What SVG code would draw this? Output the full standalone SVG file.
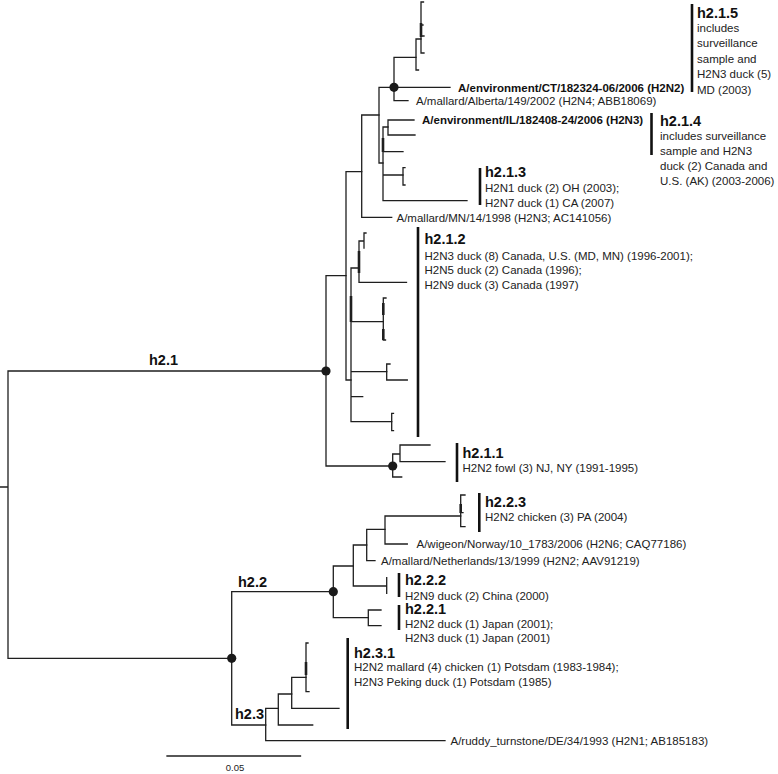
<svg xmlns="http://www.w3.org/2000/svg" width="778" height="774" viewBox="0 0 778 774">
<style>
.br{fill:none;stroke:#1f1f1f;stroke-width:1.3;stroke-linecap:square}
.tk{fill:none;stroke:#1f1f1f;stroke-width:2.6}
.bar{fill:none;stroke:#111;stroke-width:2.6}
.dot{fill:#1a1a1a}
text{font-family:"Liberation Sans",Arial,sans-serif;fill:#222}
.lb{font-size:11.5px}
.bd{font-size:11.5px;font-weight:bold;fill:#111}
.tt{font-size:14.5px;font-weight:bold;fill:#111}
.sc{font-size:9.5px}
</style>
<rect width="778" height="774" fill="#fff"/>
<g id="connectors">
<path class="br" d="M0,487H8 M8,371V658.3 M8,371H326 M8,658.3H231.7"/>
<path class="br" d="M326,275.7V466 M326,275.7H346 M326,466H392.7"/>
<path class="br" d="M346,171.7V380 M346,171.7H361.7 M346,380H351"/>
<path class="br" d="M361.7,115V217.3 M361.7,115H379 M361.7,217.3H391.7"/>
<path class="br" d="M379,87.3V163 M379,87.3H394 M379,163H383"/>
<path class="br" d="M394,57.3V100.7 M394,57.3H416 M394,87.3H450 M394,100.7H408"/>
<path class="br" d="M416,39V70 M416,39H421 M416,70H418.5"/>
<path class="br" d="M421,2V53 M421,2H423.5 M421,53H424 M421,25H423 M421,36H424"/>
<path class="tk" d="M421,23V37"/>
<path class="br" d="M383,127V200.7 M383,127H388 M383,151.7H403 M383,175H403 M383,200.7H467"/>
<path class="tk" d="M383,138V152"/>
<path class="br" d="M388,120V135 M388,120H414 M388,135H415"/>
<path class="br" d="M403,167.7V185 M403,167.7H405 M403,185H405"/>
<path class="br" d="M351,268V421.7 M351,268H359 M351,321.7H383.3 M351,371.7H386.7 M351,396.7H362.7 M351,421.7H391.7"/>
<path class="tk" d="M351,296V322"/>
<path class="br" d="M359,241V282.3 M359,241H364 M359,282.3H406.5 M364,233V248 M364,233H366"/>
<path class="tk" d="M359,251V273"/>
<path class="br" d="M383.3,298V340 M383.3,298H386 M383.3,340H385.5"/>
<path class="tk" d="M383.3,303V315 M383.3,329V340"/>
<path class="br" d="M386.7,364V380 M386.7,364H390 M386.7,380H407.3"/>
<path class="br" d="M391.7,413.3V430.7 M391.7,413.3H393.5 M391.7,430.7H393.5"/>
<path class="br" d="M392.7,454V477 M392.7,454H400 M392.7,477H401.7 M400,445V461.7 M400,445H430 M400,461.7H445"/>
<path class="br" d="M231.7,591.7V725 M231.7,591.7H333.3 M231.7,725H265.7"/>
<path class="br" d="M333.3,566V617.7 M333.3,566H353.3 M333.3,617.7H368.3"/>
<path class="br" d="M368.3,610V625.7 M368.3,610H381 M368.3,625.7H381"/>
<path class="br" d="M353.3,545V586 M353.3,545H366.7 M353.3,586H386.7 M386.7,577.7V593.3"/>
<path class="br" d="M366.7,529.3V560.7 M366.7,529.3H385 M366.7,560.7H375"/>
<path class="br" d="M385,516V544 M385,516H460.7 M385,544H407.3"/>
<path class="br" d="M460.7,495V526.7 M460.7,495H465 M460.7,526.7H465 M460.7,512.7H463"/>
<path class="tk" d="M460.7,504V513"/>
<path class="br" d="M265.7,708.3V740.7 M265.7,708.3H278.3 M265.7,740.7H445"/>
<path class="br" d="M278.3,694V725 M278.3,694H291.7 M278.3,725H312.7"/>
<path class="br" d="M291.7,677.3V708.3 M291.7,677.3H306 M291.7,708.3H339"/>
<path class="br" d="M306,643V691.7 M306,643H308 M306,691.7H309"/>
<path class="tk" d="M306,662V675"/>
<path class="br" d="M167,756H300.5"/>
</g>
<g id="internal-nodes">
<circle class="dot" cx="326" cy="371" r="4.6"/>
<circle class="dot" cx="394" cy="87.3" r="4.6"/>
<circle class="dot" cx="392.7" cy="466" r="4.6"/>
<circle class="dot" cx="333.3" cy="591.7" r="4.6"/>
<circle class="dot" cx="231.7" cy="658.3" r="4.6"/>
</g>
<g id="lineage-h2-1"><text class="tt" x="149" y="365">h2.1</text></g>
<g id="lineage-h2-2"><text class="tt" x="238" y="587">h2.2</text></g>
<g id="lineage-h2-3"><text class="tt" x="235" y="719">h2.3</text></g>
<g id="clade-h2-1-5">
<path class="bar" d="M692,4V92"/>
<text class="tt" x="697" y="17.5">h2.1.5</text>
<text class="lb" x="697" y="31.5">includes</text>
<text class="lb" x="697" y="47">surveillance</text>
<text class="lb" x="697" y="62.5">sample and</text>
<text class="lb" x="697" y="78">H2N3 duck (5)</text>
<text class="lb" x="697" y="93.5">MD (2003)</text>
</g>
<g id="leaf-env-ct"><text class="bd" x="458" y="91.5">A/environment/CT/182324-06/2006 (H2N2)</text></g>
<g id="leaf-mallard-alberta"><text class="lb" x="416" y="105">A/mallard/Alberta/149/2002 (H2N4; ABB18069)</text></g>
<g id="leaf-env-il"><text class="bd" x="422" y="124">A/environment/IL/182408-24/2006 (H2N3)</text></g>
<g id="clade-h2-1-4">
<path class="bar" d="M651.5,113V155"/>
<text class="tt" x="660" y="125.5">h2.1.4</text>
<text class="lb" x="660" y="139.5">includes surveillance</text>
<text class="lb" x="660" y="154.5">sample and H2N3</text>
<text class="lb" x="660" y="170">duck (2) Canada and</text>
<text class="lb" x="660" y="185">U.S. (AK) (2003-2006)</text>
</g>
<g id="clade-h2-1-3">
<path class="bar" d="M480,168V205"/>
<text class="tt" x="485" y="177">h2.1.3</text>
<text class="lb" x="485" y="192">H2N1 duck (2) OH (2003);</text>
<text class="lb" x="485" y="206.5">H2N7 duck (1) CA (2007)</text>
</g>
<g id="leaf-mallard-mn"><text class="lb" x="396.5" y="221.5">A/mallard/MN/14/1998 (H2N3; AC141056)</text></g>
<g id="clade-h2-1-2">
<path class="bar" d="M418,227V437"/>
<text class="tt" x="424.5" y="243.5">h2.1.2</text>
<text class="lb" x="424.5" y="259.5">H2N3 duck (8) Canada, U.S. (MD, MN) (1996-2001);</text>
<text class="lb" x="424.5" y="274">H2N5 duck (2) Canada (1996);</text>
<text class="lb" x="424.5" y="288.5">H2N9 duck (3) Canada (1997)</text>
</g>
<g id="clade-h2-1-1">
<path class="bar" d="M457,443V482"/>
<text class="tt" x="462.5" y="458">h2.1.1</text>
<text class="lb" x="462.5" y="471.5">H2N2 fowl (3) NJ, NY (1991-1995)</text>
</g>
<g id="clade-h2-2-3">
<path class="bar" d="M479.3,493V532"/>
<text class="tt" x="485" y="507">h2.2.3</text>
<text class="lb" x="485" y="521">H2N2 chicken (3) PA (2004)</text>
</g>
<g id="leaf-wigeon-norway"><text class="lb" x="416.5" y="548">A/wigeon/Norway/10_1783/2006 (H2N6; CAQ77186)</text></g>
<g id="leaf-mallard-netherlands"><text class="lb" x="381" y="565">A/mallard/Netherlands/13/1999 (H2N2; AAV91219)</text></g>
<g id="clade-h2-2-2">
<path class="bar" d="M399,573V597"/>
<text class="tt" x="405" y="585">h2.2.2</text>
<text class="lb" x="405" y="599.5">H2N9 duck (2) China (2000)</text>
</g>
<g id="clade-h2-2-1">
<path class="bar" d="M399,605V630"/>
<text class="tt" x="405" y="613.5">h2.2.1</text>
<text class="lb" x="405" y="628">H2N2 duck (1) Japan (2001);</text>
<text class="lb" x="405" y="642">H2N3 duck (1) Japan (2001)</text>
</g>
<g id="clade-h2-3-1">
<path class="bar" d="M347.7,638V729"/>
<text class="tt" x="354" y="658">h2.3.1</text>
<text class="lb" x="354" y="671">H2N2 mallard (4) chicken (1) Potsdam (1983-1984);</text>
<text class="lb" x="354" y="686">H2N3 Peking duck (1) Potsdam (1985)</text>
</g>
<g id="leaf-ruddy-turnstone"><text class="lb" x="450.5" y="745">A/ruddy_turnstone/DE/34/1993 (H2N1; AB185183)</text></g>
<g id="scale-bar"><text class="sc" x="235" y="770.5" text-anchor="middle">0.05</text></g>
</svg>
